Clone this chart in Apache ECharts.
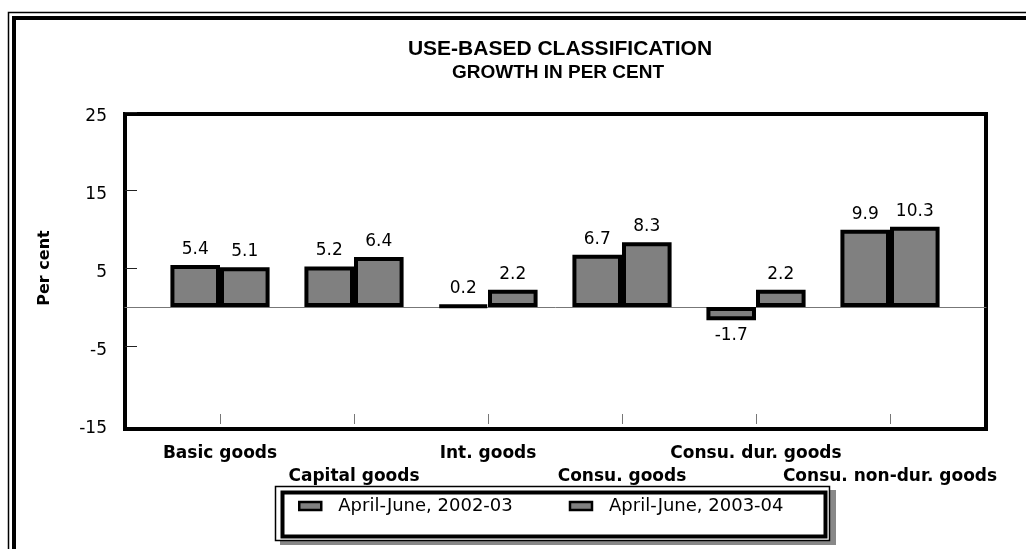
<!DOCTYPE html>
<html>
<head>
<meta charset="utf-8">
<script src="https://cdn.jsdelivr.net/npm/echarts@6/dist/echarts.min.js"></script>
<style>
html, body { margin: 0; padding: 0; background: #fff; }
#chart { width: 1026px; height: 549px; }
</style>
</head>
<body>
<div id="chart"></div>
<script>
var categories = ['Basic goods', 'Capital goods', 'Int. goods', 'Consu. goods', 'Consu. dur. goods', 'Consu. non-dur. goods'];
var seriesNames = ['April-June, 2002-03', 'April-June, 2003-04'];
var growth0203 = [5.4, 5.2, 0.2, 6.7, -1.7, 9.9];
var growth0304 = [5.1, 6.4, 2.2, 8.3, 2.2, 10.3];
var yTicks = [-15, -5, 5, 15, 25];

var wide = 'DejaVu Sans, Verdana, sans-serif';
var arial = 'Liberation Sans, Arial, sans-serif';

var chart = echarts.init(document.getElementById('chart'));

function barSeries (name, values) {
    return {
        name: name,
        type: 'bar',
        xAxisIndex: 0,
        yAxisIndex: 0,
        barGap: '0%',
        barCategoryGap: '26%',
        itemStyle: { color: '#808080', borderColor: '#000', borderWidth: 4 },
        label: {
            show: true,
            color: '#000',
            fontFamily: wide,
            fontSize: 17,
            distance: 7
        },
        data: values.map(function (v) {
            return { value: v, label: { position: v < 0 ? 'bottom' : 'top' } }
        })
    }
}

function box (x, y, w, h, lw, fill) {
    return {
        type: 'rect',
        z: 0,
        silent: true,
        shape: { x: x, y: y, width: w, height: h },
        style: { fill: fill || 'none', stroke: '#000', lineWidth: lw }
    }
}

chart.setOption({
    animation: false,
    backgroundColor: '#fff',
    title: [
        {
            text: 'USE-BASED CLASSIFICATION',
            left: 555, top: 34, textAlign: 'center',
            textStyle: { fontFamily: arial, fontWeight: 'bold', fontSize: 21, color: '#000' }
        },
        {
            text: 'GROWTH IN PER CENT',
            left: 553, top: 58, textAlign: 'center',
            textStyle: { fontFamily: arial, fontWeight: 'bold', fontSize: 19, color: '#000' }
        }
    ],
    legend: {
        data: seriesNames,
        left: 298,
        top: 497,
        padding: 0,
        icon: 'rect',
        itemWidth: 22,
        itemHeight: 8,
        itemGap: 56,
        itemStyle: { borderWidth: 2.5, borderColor: '#000' },
        textStyle: { fontFamily: wide, fontSize: 18, color: '#000', padding: [0, 0, 0, 12] }
    },
    grid: [
        { left: 153, width: 804, top: 112, height: 312 },
        { left: 125, width: 861, top: 112, height: 312 }
    ],
    xAxis: [
        {
            type: 'category',
            gridIndex: 0,
            data: categories,
            axisLine: { show: false, onZero: false },
            axisTick: { show: true, inside: true, alignWithLabel: true, length: 10, lineStyle: { color: '#777' } },
            axisLabel: {
                interval: 0,
                margin: 18,
                fontFamily: wide,
                fontWeight: 'bold',
                fontSize: 17,
                color: '#000',
                lineHeight: 23,
                formatter: function (v, i) { return i % 2 ? '\n' + v : v }
            },
            splitLine: { show: false }
        },
        {
            type: 'value',
            gridIndex: 1,
            min: 0,
            max: 1,
            axisLine: { show: true, onZero: true, lineStyle: { color: '#777', width: 1 } },
            axisTick: { show: false },
            axisLabel: { show: false },
            splitLine: { show: false }
        }
    ],
    yAxis: [
        {
            type: 'value',
            gridIndex: 0,
            min: yTicks[0],
            max: yTicks[yTicks.length - 1],
            interval: yTicks[1] - yTicks[0],
            show: false
        },
        {
            type: 'value',
            gridIndex: 1,
            min: yTicks[0],
            max: yTicks[yTicks.length - 1],
            interval: yTicks[1] - yTicks[0],
            name: 'Per cent',
            nameLocation: 'middle',
            nameGap: 72,
            nameTextStyle: { fontFamily: wide, fontWeight: 'bold', fontSize: 16, color: '#000' },
            axisLine: { show: false },
            axisTick: {
                show: true, inside: true, length: 12,
                customValues: yTicks.slice(1),
                lineStyle: { color: '#222' }
            },
            axisLabel: {
                margin: 18, verticalAlign: 'top', lineHeight: 9,
                fontFamily: wide, fontSize: 17, color: '#000'
            },
            splitLine: { show: false }
        }
    ],
    graphic: [
        // outer double frame
        box(8.5, 12.5, 1100, 600, 1.5),
        box(14, 18, 1100, 600, 4),
        // plot area frame
        box(125, 114, 861, 315, 4),
        // legend box with shadow
        { type: 'rect', z: 0, silent: true, shape: { x: 280, y: 490, width: 556, height: 55 }, style: { fill: '#888' } },
        box(275.5, 486.5, 554, 54, 1.5, '#fff'),
        box(282.5, 492.5, 543, 44, 4)
    ],
    series: [
        barSeries(seriesNames[0], growth0203),
        barSeries(seriesNames[1], growth0304)
    ]
})
</script>
</body>
</html>
